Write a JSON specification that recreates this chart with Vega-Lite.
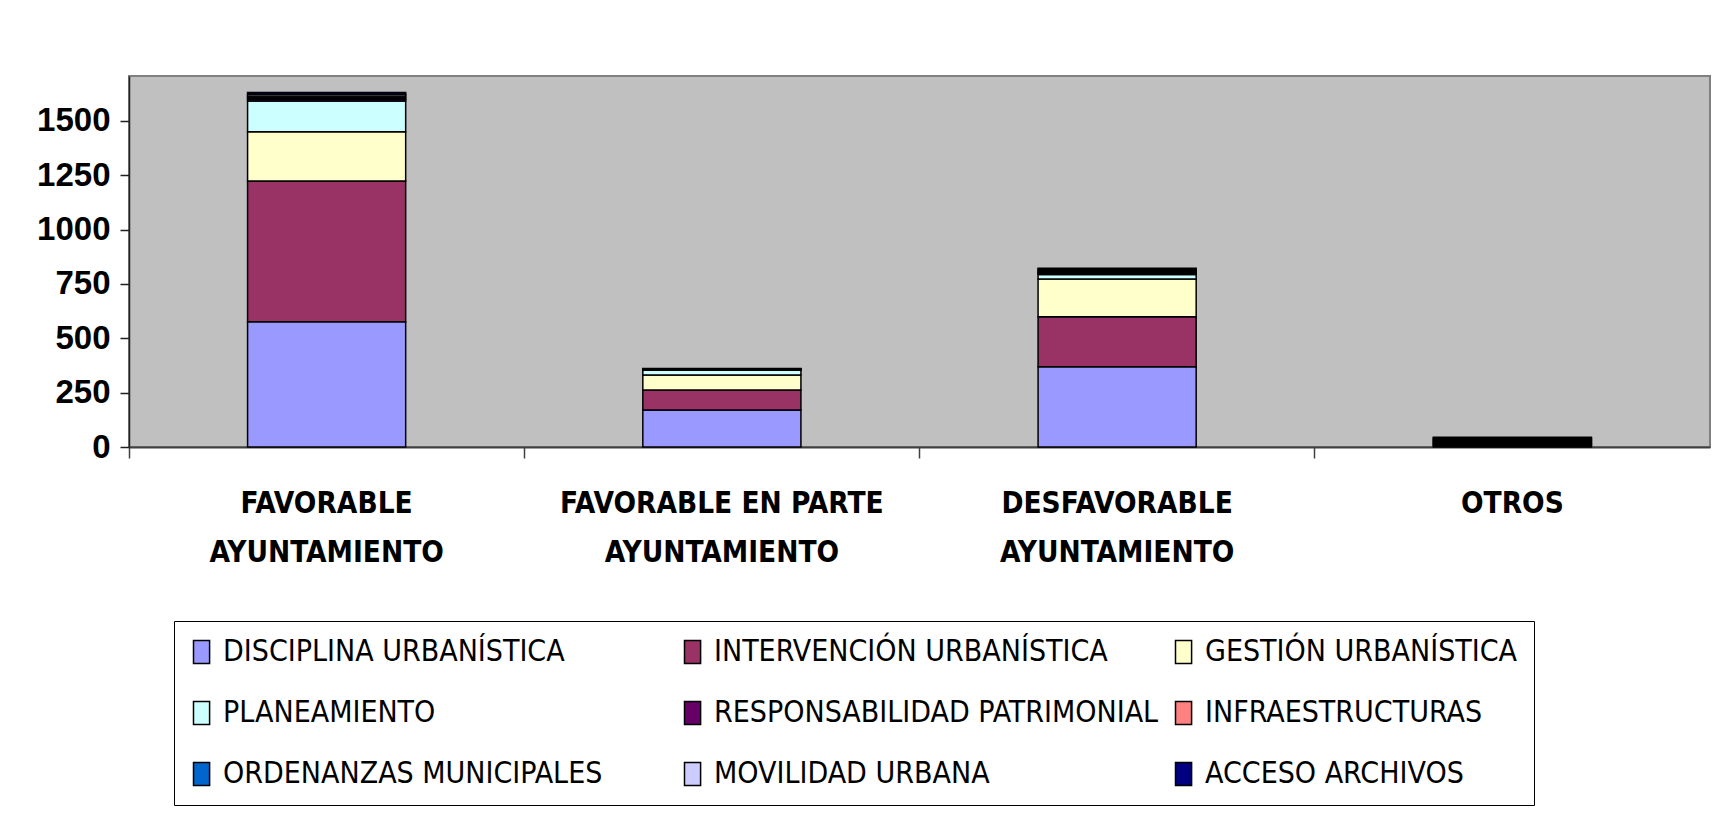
{
  "$schema": "https://vega.github.io/schema/vega-lite/v6.json",
  "width": 1581,
  "height": 371,
  "autosize": {"type": "none"},
  "padding": {"left": 129, "top": 76, "right": 12, "bottom": 373},
  "background": "white",
  "config": {"view": {"fill": "#C0C0C0", "stroke": "#808080", "strokeWidth": 2}},
  "data": {
    "values": [
      {"resolucion": "FAVORABLE AYUNTAMIENTO", "materia": "DISCIPLINA URBANÍSTICA", "orden": 1, "valor": 576},
      {"resolucion": "FAVORABLE EN PARTE AYUNTAMIENTO", "materia": "DISCIPLINA URBANÍSTICA", "orden": 1, "valor": 170},
      {"resolucion": "DESFAVORABLE AYUNTAMIENTO", "materia": "DISCIPLINA URBANÍSTICA", "orden": 1, "valor": 369},
      {"resolucion": "OTROS", "materia": "DISCIPLINA URBANÍSTICA", "orden": 1, "valor": 5},
      {"resolucion": "FAVORABLE AYUNTAMIENTO", "materia": "INTERVENCIÓN URBANÍSTICA", "orden": 2, "valor": 647},
      {"resolucion": "FAVORABLE EN PARTE AYUNTAMIENTO", "materia": "INTERVENCIÓN URBANÍSTICA", "orden": 2, "valor": 92},
      {"resolucion": "DESFAVORABLE AYUNTAMIENTO", "materia": "INTERVENCIÓN URBANÍSTICA", "orden": 2, "valor": 230},
      {"resolucion": "OTROS", "materia": "INTERVENCIÓN URBANÍSTICA", "orden": 2, "valor": 5},
      {"resolucion": "FAVORABLE AYUNTAMIENTO", "materia": "GESTIÓN URBANÍSTICA", "orden": 3, "valor": 227},
      {"resolucion": "FAVORABLE EN PARTE AYUNTAMIENTO", "materia": "GESTIÓN URBANÍSTICA", "orden": 3, "valor": 69},
      {"resolucion": "DESFAVORABLE AYUNTAMIENTO", "materia": "GESTIÓN URBANÍSTICA", "orden": 3, "valor": 173},
      {"resolucion": "OTROS", "materia": "GESTIÓN URBANÍSTICA", "orden": 3, "valor": 5},
      {"resolucion": "FAVORABLE AYUNTAMIENTO", "materia": "PLANEAMIENTO", "orden": 4, "valor": 141},
      {"resolucion": "FAVORABLE EN PARTE AYUNTAMIENTO", "materia": "PLANEAMIENTO", "orden": 4, "valor": 22},
      {"resolucion": "DESFAVORABLE AYUNTAMIENTO", "materia": "PLANEAMIENTO", "orden": 4, "valor": 21},
      {"resolucion": "OTROS", "materia": "PLANEAMIENTO", "orden": 4, "valor": 5},
      {"resolucion": "FAVORABLE AYUNTAMIENTO", "materia": "RESPONSABILIDAD PATRIMONIAL", "orden": 5, "valor": 8},
      {"resolucion": "FAVORABLE EN PARTE AYUNTAMIENTO", "materia": "RESPONSABILIDAD PATRIMONIAL", "orden": 5, "valor": 2},
      {"resolucion": "DESFAVORABLE AYUNTAMIENTO", "materia": "RESPONSABILIDAD PATRIMONIAL", "orden": 5, "valor": 6},
      {"resolucion": "OTROS", "materia": "RESPONSABILIDAD PATRIMONIAL", "orden": 5, "valor": 5},
      {"resolucion": "FAVORABLE AYUNTAMIENTO", "materia": "INFRAESTRUCTURAS", "orden": 6, "valor": 7},
      {"resolucion": "FAVORABLE EN PARTE AYUNTAMIENTO", "materia": "INFRAESTRUCTURAS", "orden": 6, "valor": 1},
      {"resolucion": "DESFAVORABLE AYUNTAMIENTO", "materia": "INFRAESTRUCTURAS", "orden": 6, "valor": 5},
      {"resolucion": "OTROS", "materia": "INFRAESTRUCTURAS", "orden": 6, "valor": 5},
      {"resolucion": "FAVORABLE AYUNTAMIENTO", "materia": "ORDENANZAS MUNICIPALES", "orden": 7, "valor": 8},
      {"resolucion": "FAVORABLE EN PARTE AYUNTAMIENTO", "materia": "ORDENANZAS MUNICIPALES", "orden": 7, "valor": 1},
      {"resolucion": "DESFAVORABLE AYUNTAMIENTO", "materia": "ORDENANZAS MUNICIPALES", "orden": 7, "valor": 6},
      {"resolucion": "OTROS", "materia": "ORDENANZAS MUNICIPALES", "orden": 7, "valor": 5},
      {"resolucion": "FAVORABLE AYUNTAMIENTO", "materia": "MOVILIDAD URBANA", "orden": 8, "valor": 8},
      {"resolucion": "FAVORABLE EN PARTE AYUNTAMIENTO", "materia": "MOVILIDAD URBANA", "orden": 8, "valor": 2},
      {"resolucion": "DESFAVORABLE AYUNTAMIENTO", "materia": "MOVILIDAD URBANA", "orden": 8, "valor": 6},
      {"resolucion": "OTROS", "materia": "MOVILIDAD URBANA", "orden": 8, "valor": 5},
      {"resolucion": "FAVORABLE AYUNTAMIENTO", "materia": "ACCESO ARCHIVOS", "orden": 9, "valor": 8},
      {"resolucion": "FAVORABLE EN PARTE AYUNTAMIENTO", "materia": "ACCESO ARCHIVOS", "orden": 9, "valor": 2},
      {"resolucion": "DESFAVORABLE AYUNTAMIENTO", "materia": "ACCESO ARCHIVOS", "orden": 9, "valor": 6},
      {"resolucion": "OTROS", "materia": "ACCESO ARCHIVOS", "orden": 9, "valor": 5}
    ]
  },
  "mark": {"type": "bar", "stroke": "black", "strokeWidth": 1.5, "width": {"band": 0.4}},
  "encoding": {
    "x": {
      "field": "resolucion",
      "type": "nominal",
      "sort": ["FAVORABLE AYUNTAMIENTO", "FAVORABLE EN PARTE AYUNTAMIENTO", "DESFAVORABLE AYUNTAMIENTO", "OTROS"],
      "scale": {"paddingInner": 0, "paddingOuter": 0},
      "axis": {
        "title": null,
        "labelAngle": 0,
        "labelFont": "DejaVu Sans Condensed, sans-serif",
        "labelFontWeight": "bold",
        "labelFontSize": 29.5,
        "labelColor": "black",
        "labelBaseline": "top",
        "labelLineHeight": 49,
        "labelPadding": 31,
        "labelLimit": 0,
        "tickSize": 11,
        "tickColor": "#404040",
        "tickWidth": 1.5,
        "domainColor": "#404040",
        "domainWidth": 2,
        "bandPosition": 0,
        "labelExpr": "datum.label == 'OTROS' ? 'OTROS' : [replace(datum.label, ' AYUNTAMIENTO', ''), 'AYUNTAMIENTO']"
      }
    },
    "y": {
      "field": "valor",
      "type": "quantitative",
      "stack": "zero",
      "scale": {"domain": [0, 1706], "nice": false},
      "axis": {
        "title": null,
        "grid": false,
        "format": "d",
        "values": [0, 250, 500, 750, 1000, 1250, 1500],
        "labelFont": "Liberation Sans, Arial, sans-serif",
        "labelFontWeight": "bold",
        "labelFontSize": 33,
        "labelColor": "black",
        "labelPadding": 10,
        "tickSize": 9,
        "tickColor": "#202020",
        "tickWidth": 1.5,
        "domainColor": "#202020",
        "domainWidth": 1.5
      }
    },
    "color": {
      "field": "materia",
      "type": "nominal",
      "scale": {
        "domain": ["DISCIPLINA URBANÍSTICA", "INTERVENCIÓN URBANÍSTICA", "GESTIÓN URBANÍSTICA", "PLANEAMIENTO", "RESPONSABILIDAD PATRIMONIAL", "INFRAESTRUCTURAS", "ORDENANZAS MUNICIPALES", "MOVILIDAD URBANA", "ACCESO ARCHIVOS"],
        "range": ["#9999FF", "#993366", "#FFFFCC", "#CCFFFF", "#660066", "#FF8080", "#0066CC", "#CCCCFF", "#000080"]
      },
      "legend": {
        "title": null,
        "orient": "none",
        "direction": "horizontal",
        "legendX": 45,
        "legendY": 545,
        "columns": 3,
        "gridAlign": "all",
        "columnPadding": 13,
        "rowPadding": 31,
        "padding": 16,
        "strokeColor": "black",
        "fillColor": "white",
        "symbolType": "M-1,-1L0.4,-1L0.4,1L-1,1Z",
        "symbolSize": 529,
        "symbolStrokeColor": "black",
        "symbolStrokeWidth": 1.5,
        "symbolOpacity": 1,
        "labelFont": "DejaVu Sans Condensed, sans-serif",
        "labelFontSize": 30,
        "labelColor": "black",
        "labelOffset": 3,
        "labelLimit": 0
      }
    },
    "order": {"field": "orden", "type": "quantitative"}
  }
}
